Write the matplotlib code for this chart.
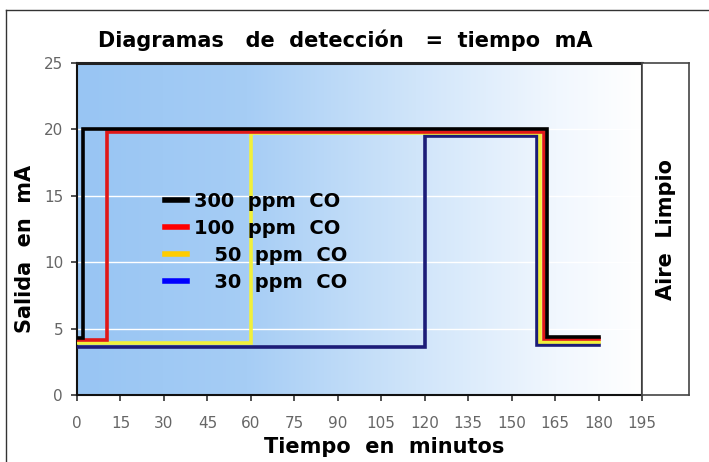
import matplotlib.pyplot as plt
import numpy as np
from matplotlib.colors import LinearSegmentedColormap
from matplotlib.lines import Line2D

# step curves (minutes, mA)
labels = ["300  ppm  CO", "100  ppm  CO", "\u2007 50  ppm  CO", "\u2007 30  ppm  CO"]
t_300 = [0, 2, 2, 162.3, 162.3, 180]
mA_300 = [4.3, 4.3, 20.0, 20.0, 4.4, 4.4]
t_100 = [0, 10.5, 10.5, 161.1, 161.1, 180]
mA_100 = [4.15, 4.15, 19.8, 19.8, 4.2, 4.2]
t_50 = [0, 60, 60, 159.9, 159.9, 180]
mA_50 = [3.9, 3.9, 19.7, 19.7, 4.0, 4.0]
t_30 = [0, 120, 120, 158.8, 158.8, 180]
mA_30 = [3.65, 3.65, 19.5, 19.5, 3.75, 3.75]

x_ticks = list(range(0, 196, 15))
y_ticks = [0, 5, 10, 15, 20, 25]

line_colors = ["#000000", "#e01818", "#f2f03a", "#1c1c78"]
legend_colors = ["#000000", "#ff0000", "#ffcc00", "#0000ff"]

fig = plt.figure(figsize=(7.09, 4.62), dpi=100)
fig.patch.set_facecolor("white")

ax = fig.add_axes([77 / 709, 1 - 395 / 462, 565 / 709, 332 / 462])

# blue -> white background gradient
bg = LinearSegmentedColormap.from_list(
    "bg", [(0, "#98c5f3"), (0.3, "#a6cdf5"), (0.6, "#d0e5fa"), (0.85, "#f1f7fe"), (1, "#ffffff")])
grad = np.linspace(0, 1, 256).reshape(1, -1)
ax.imshow(grad, cmap=bg, aspect="auto", extent=[0, 195, 0, 25], zorder=0)

for yv in y_ticks[1:-1]:
    ax.axhline(yv, color="white", lw=1, zorder=1)

series = [(t_30, mA_30), (t_50, mA_50), (t_100, mA_100), (t_300, mA_300)]
cols = line_colors[::-1]
for (t, v), c in zip(series, cols):
    ax.plot(t, v, color=c, lw=2.6, solid_joinstyle="miter", zorder=3)

ax.set_xlim(0, 195)
ax.set_ylim(0, 25)
ax.set_xticks(x_ticks)
ax.set_yticks(y_ticks)
ax.tick_params(colors="#333333", labelcolor="#666666", labelsize=11, length=4, width=1.2)
ax.tick_params(axis="x", pad=11)
ax.tick_params(axis="y", pad=6)
for s in ["left", "bottom"]:
    ax.spines[s].set_linewidth(1.5)
    ax.spines[s].set_color("#111111")
ax.spines["top"].set_linewidth(2.2)
ax.spines["top"].set_color("#222222")
ax.spines["right"].set_linewidth(1.5)
ax.spines["right"].set_color("#222222")

handles = [Line2D([0], [0], color=c, lw=4) for c in legend_colors]
leg = ax.legend(handles, labels, loc="upper left", bbox_to_anchor=(0.125, 0.665),
                frameon=False, handlelength=1.1, handletextpad=0.4, labelspacing=0.42,
                prop={"weight": "bold", "size": 14})

# right panel "Aire Limpio"
ax2 = fig.add_axes([642 / 709, 1 - 395 / 462, 47 / 709, 332 / 462])
ax2.set_xticks([])
ax2.set_yticks([])
for s in ax2.spines.values():
    s.set_color("#444444")
    s.set_linewidth(1.2)
ax2.text(0.5, 0.5, "Aire  Limpio", rotation=90, ha="center", va="center",
         fontsize=15, fontweight="bold", transform=ax2.transAxes)

fig.text(345 / 709, 1 - 40 / 462, "Diagramas   de  detección   =  tiempo  mA",
         ha="center", va="center", fontsize=15, fontweight="bold")
fig.text(25 / 709, 1 - 249 / 462, "Salida  en  mA", rotation=90,
         ha="center", va="center", fontsize=15, fontweight="bold")
fig.text(384 / 709, 1 - 447 / 462, "Tiempo  en  minutos",
         ha="center", va="center", fontsize=15, fontweight="bold")

# outer frame (top and left edges)
fig.add_artist(Line2D([6 / 709, 1], [1 - 10 / 462, 1 - 10 / 462], color="#333333", lw=1))
fig.add_artist(Line2D([6 / 709, 6 / 709], [0, 1 - 10 / 462], color="#333333", lw=1))

fig.savefig("out.png", dpi=100)
